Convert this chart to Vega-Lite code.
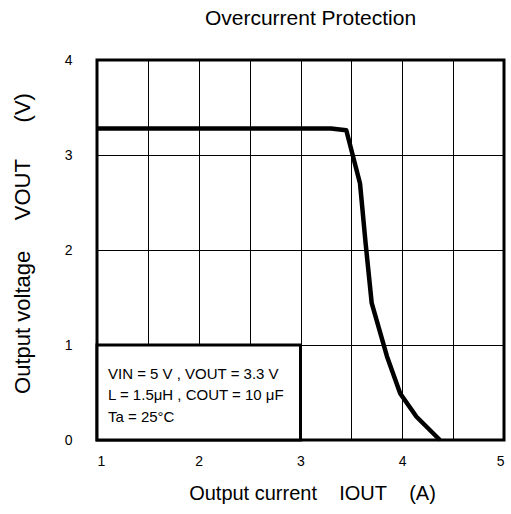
{
  "$schema": "https://vega.github.io/schema/vega-lite/v6.json",
  "autosize": "none",
  "width": 407,
  "height": 380,
  "padding": {"left": 97, "top": 60, "right": 7, "bottom": 74},
  "config": {
    "font": "Liberation Sans",
    "view": {"stroke": "black", "strokeWidth": 3},
    "axis": {"labelColor": "black", "titleColor": "black", "labelFont": "Liberation Sans", "titleFont": "Liberation Sans", "titleFontWeight": "normal", "gridColor": "black", "gridOpacity": 1, "gridWidth": 1, "ticks": false, "domain": false}
  },
  "title": {"text": "Overcurrent Protection", "fontSize": 21, "fontWeight": "normal", "color": "black", "offset": 24, "dx": 10, "anchor": "middle"},
  "datasets": {
    "curve": [
      {"i": 1.0, "v": 3.28},
      {"i": 3.3, "v": 3.28},
      {"i": 3.45, "v": 3.26},
      {"i": 3.585, "v": 2.70},
      {"i": 3.64, "v": 2.07},
      {"i": 3.70, "v": 1.44},
      {"i": 3.85, "v": 0.88},
      {"i": 3.98, "v": 0.49},
      {"i": 4.14, "v": 0.245},
      {"i": 4.37, "v": 0.0}
    ],
    "box": [{"x1": 1, "x2": 3, "y1": 0, "y2": 1}],
    "notes": [
      {"x": 1.108, "y": 0.70, "t": "VIN = 5 V , VOUT = 3.3 V"},
      {"x": 1.108, "y": 0.47, "t": "L = 1.5μH , COUT = 10 μF"},
      {"x": 1.108, "y": 0.245, "t": "Ta = 25°C"}
    ]
  },
  "layer": [
    {
      "data": {"name": "curve"},
      "mark": {"type": "line", "color": "black", "strokeWidth": 4.5, "strokeJoin": "round"},
      "encoding": {
        "x": {"field": "i", "type": "quantitative", "scale": {"domain": [1, 5], "nice": false, "zero": false},
          "axis": {"values": [1, 1.5, 2, 2.5, 3, 3.5, 4, 4.5, 5], "labelExpr": "datum.value % 1 == 0 ? format(datum.value, 'd') : ''", "labelFontSize": 14, "labelPadding": 14, "title": "Output current\u00a0\u00a0\u00a0\u00a0IOUT\u00a0\u00a0\u00a0\u00a0(A)", "titleFontSize": 20, "titlePadding": 15, "titleX": 215}},
        "y": {"field": "v", "type": "quantitative", "scale": {"domain": [0, 4], "nice": false},
          "axis": {"values": [0, 1, 2, 3, 4], "labelExpr": "format(datum.value, 'd')", "labelFontSize": 14, "labelPadding": 25, "title": "Output voltage\u00a0\u00a0\u00a0\u00a0\u00a0VOUT\u00a0\u00a0\u00a0\u00a0\u00a0\u00a0(V)", "titleFontSize": 22, "titlePadding": 30, "titleY": 183}}
      }
    },
    {
      "data": {"name": "box"},
      "mark": {"type": "rect", "fill": "white", "stroke": "black", "strokeWidth": 3},
      "encoding": {
        "x": {"field": "x1", "type": "quantitative"},
        "x2": {"field": "x2"},
        "y": {"field": "y1", "type": "quantitative"},
        "y2": {"field": "y2"}
      }
    },
    {
      "data": {"name": "notes"},
      "mark": {"type": "text", "align": "left", "baseline": "middle", "fontSize": 15, "color": "black"},
      "encoding": {
        "x": {"field": "x", "type": "quantitative"},
        "y": {"field": "y", "type": "quantitative"},
        "text": {"field": "t"}
      }
    }
  ]
}
